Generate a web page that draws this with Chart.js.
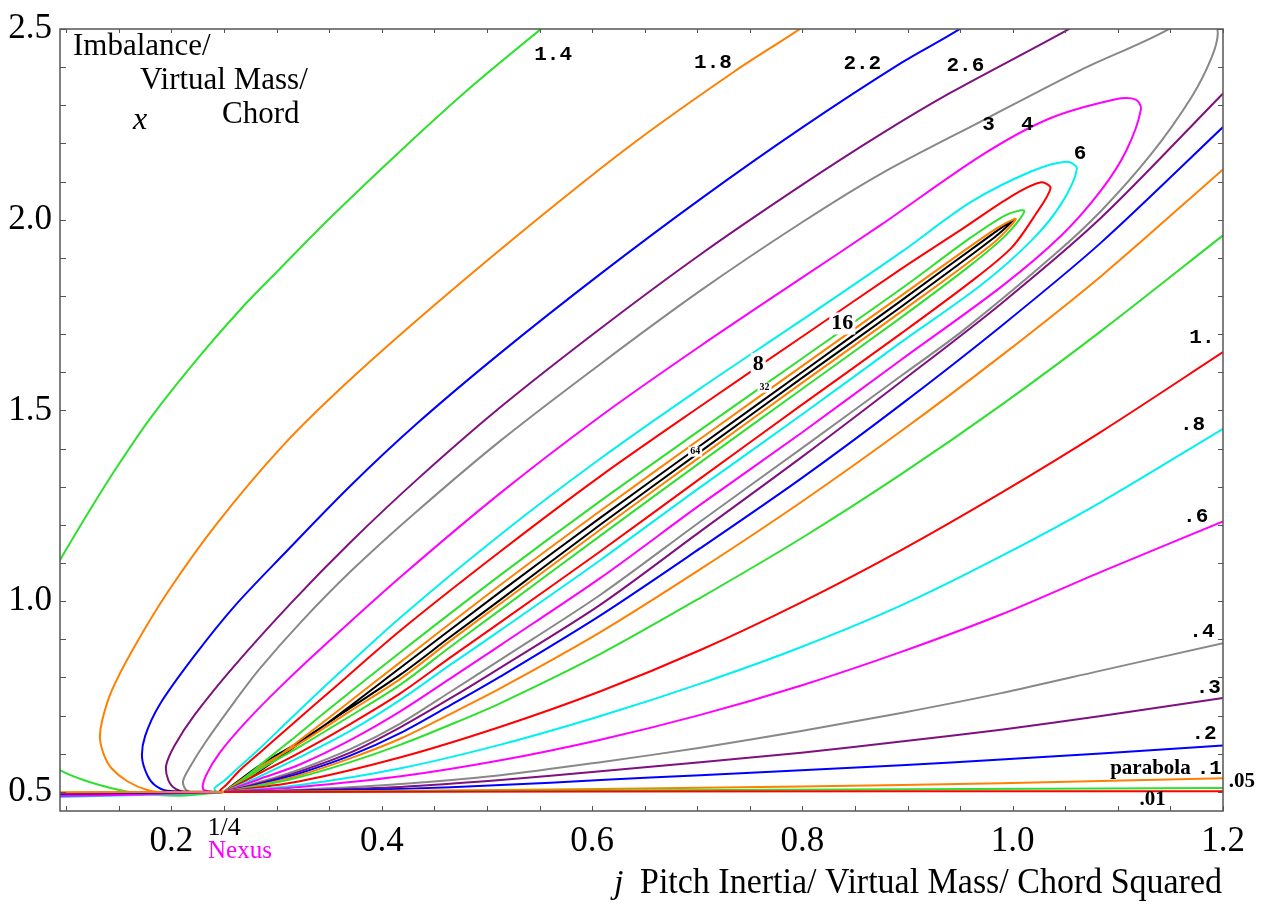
<!DOCTYPE html>
<html>
<head>
<meta charset="utf-8">
<title>Imbalance / pitch inertia contours</title>
<script src="https://cdn.jsdelivr.net/npm/chart.js@4.4.1/dist/chart.umd.min.js"></script>
<style>
  html, body { margin: 0; padding: 0; background: #fff; }
  #wrap { width: 1262px; height: 909px; }
</style>
</head>
<body>
<div id="wrap"><canvas id="chart" width="1262" height="909"></canvas></div>
<script>
// Axis ranges and tick labels
const X_MIN = 0.094, X_MAX = 1.2;
const Y_MIN = 0.45, Y_MAX = 2.5;
const xTicks = [0.2, 0.4, 0.6, 0.8, 1.0, 1.2];
const yTicks = [0.5, 1.0, 1.5, 2.0, 2.5];

// Contour colours
const RED = '#ff0000', GREEN = '#2ee02e', ORANGE = '#ff8000', BLUE = '#0000ff',
      PURPLE = '#7f117f', GRAY = '#888888', MAGENTA = '#ff00ff', CYAN = '#00f0f0', BLACK = '#000000';

// Contour lines, [j, x] pairs
// low levels: one branch from the nexus to the right edge
const lvl001 = [[0.25,0.5],[0.608,0.5012],[1.2,0.502]];
const lvl005 = [[0.25,0.5],[0.608,0.504],[1.2,0.51]];
const lvl01  = [[0.25,0.5],[0.418,0.503],[0.608,0.508],[0.799,0.514],[0.989,0.523],[1.2,0.536]];
const lvl02  = [[0.25,0.5],[0.322,0.503],[0.418,0.508],[0.513,0.518],[0.608,0.531],[0.703,0.544],[0.799,0.557],[0.894,0.57],[0.989,0.585],[1.084,0.601],[1.2,0.622]];
const lvl03  = [[0.25,0.5],[0.322,0.504],[0.418,0.513],[0.513,0.531],[0.608,0.554],[0.703,0.578],[0.799,0.603],[0.894,0.632],[0.989,0.663],[1.084,0.699],[1.2,0.746]];
const lvl04  = [[0.25,0.5],[0.322,0.506],[0.418,0.521],[0.513,0.544],[0.608,0.578],[0.703,0.616],[0.799,0.66],[0.894,0.707],[0.989,0.759],[1.084,0.818],[1.2,0.89]];
const lvl06  = [[0.25,0.5],[0.322,0.513],[0.418,0.541],[0.513,0.583],[0.608,0.637],[0.703,0.702],[0.799,0.779],[0.894,0.867],[0.989,0.965],[1.084,1.077],[1.2,1.209]];
const lvl08  = [[0.25,0.5],[0.322,0.518],[0.418,0.562],[0.513,0.624],[0.608,0.699],[0.703,0.784],[0.799,0.88],[0.894,0.989],[0.989,1.118],[1.084,1.26],[1.2,1.452]];
const lvl1   = [[0.25,0.5],[0.322,0.528],[0.418,0.591],[0.513,0.671],[0.608,0.764],[0.703,0.872],[0.799,0.997],[0.894,1.134],[0.989,1.284],[1.084,1.444],[1.2,1.653]];

// open levels: lower branch to the right edge, upper branch from the top edge round to the nexus
const lvl14lo = [[0.25,0.5],[0.284,0.516],[0.322,0.539],[0.37,0.578],[0.418,0.624],[0.465,0.676],[0.513,0.733],[0.608,0.862],[0.703,1.009],[0.799,1.165],[0.894,1.333],[0.989,1.514],[1.084,1.708],[1.2,1.959]];
const lvl14up = [[0.565,2.527],[0.551,2.499],[0.484,2.346],[0.418,2.181],[0.351,2.005],[0.303,1.871],[0.268,1.772],[0.227,1.643],[0.18,1.48],[0.148,1.351],[0.122,1.237],[0.094,1.108],[0.084,1.059]];
const lvl14left = [[0.08,0.59],[0.094,0.557],[0.122,0.526],[0.16,0.5],[0.208,0.49],[0.25,0.5]];
const lvl18lo = [[0.25,0.5],[0.284,0.518],[0.322,0.544],[0.37,0.588],[0.418,0.64],[0.465,0.704],[0.513,0.772],[0.608,0.919],[0.703,1.084],[0.799,1.26],[0.894,1.446],[0.989,1.643],[1.084,1.852],[1.2,2.132]];
const lvl18up = [[0.81,2.527],[0.797,2.499],[0.735,2.388],[0.64,2.202],[0.554,2.015],[0.453,1.783],[0.37,1.581],[0.306,1.408],[0.243,1.203],[0.196,1.022],[0.163,0.872],[0.143,0.764],[0.134,0.686],[0.132,0.64],[0.136,0.596],[0.143,0.562],[0.158,0.528],[0.177,0.505],[0.199,0.497],[0.25,0.5]];
const lvl22lo = [[0.25,0.5],[0.284,0.521],[0.322,0.549],[0.37,0.595],[0.418,0.655],[0.465,0.727],[0.513,0.803],[0.608,0.963],[0.703,1.139],[0.799,1.322],[0.894,1.516],[0.989,1.721],[1.084,1.94],[1.2,2.243]];
const lvl22up = [[0.96,2.527],[0.949,2.499],[0.894,2.411],[0.799,2.24],[0.703,2.054],[0.608,1.858],[0.513,1.651],[0.434,1.467],[0.37,1.302],[0.306,1.121],[0.259,0.984],[0.221,0.854],[0.189,0.73],[0.175,0.647],[0.172,0.591],[0.177,0.544],[0.184,0.518],[0.196,0.503],[0.25,0.5]];
const lvl26lo = [[0.25,0.5],[0.284,0.523],[0.322,0.554],[0.37,0.603],[0.418,0.67],[0.465,0.745],[0.513,0.826],[0.608,0.991],[0.703,1.183],[0.799,1.377],[0.894,1.576],[0.989,1.78],[1.084,2.005],[1.2,2.331]];
const lvl26up = [[1.067,2.527],[1.053,2.499],[0.941,2.333],[0.875,2.225],[0.799,2.09],[0.703,1.909],[0.608,1.715],[0.513,1.509],[0.434,1.32],[0.37,1.154],[0.315,0.999],[0.259,0.828],[0.222,0.702],[0.203,0.622],[0.195,0.57],[0.197,0.531],[0.204,0.508],[0.218,0.497],[0.25,0.5]];

// closed loops: nexus -> lower side -> far tip -> upper side -> nexus
const lvl3 = [[0.25,0.5],[0.284,0.526],[0.322,0.559],[0.37,0.612],[0.418,0.68],[0.465,0.762],[0.513,0.847],[0.608,1.017],[0.703,1.209],[0.799,1.4],[0.894,1.591],[0.953,1.71],[1.037,1.902],[1.084,2.023],[1.132,2.173],[1.17,2.321],[1.189,2.424],[1.195,2.491],[1.187,2.543],[1.165,2.548],[1.148,2.499],
              [1.065,2.393],[0.97,2.258],[0.875,2.121],[0.799,1.992],[0.703,1.814],[0.608,1.622],[0.513,1.421],[0.434,1.237],[0.37,1.077],[0.322,0.942],[0.284,0.823],[0.259,0.733],[0.232,0.629],[0.218,0.567],[0.211,0.528],[0.214,0.505],[0.223,0.497],[0.25,0.5]];
const lvl4 = [[0.25,0.5],[0.284,0.534],[0.322,0.572],[0.37,0.636],[0.418,0.712],[0.465,0.797],[0.513,0.885],[0.608,1.061],[0.703,1.253],[0.799,1.441],[0.894,1.633],[0.989,1.824],[1.046,1.958],[1.084,2.077],[1.108,2.181],[1.122,2.29],
              [1.117,2.315],[1.097,2.315],[1.034,2.264],[0.97,2.168],[0.875,1.987],[0.799,1.847],[0.703,1.669],[0.608,1.485],[0.513,1.284],[0.418,1.064],[0.351,0.898],[0.303,0.774],[0.27,0.681],[0.246,0.603],[0.233,0.544],[0.23,0.508],[0.239,0.5],[0.25,0.5]];
const lvl6 = [[0.25,0.5],[0.284,0.541],[0.322,0.591],[0.37,0.66],[0.418,0.742],[0.465,0.833],[0.513,0.924],[0.608,1.108],[0.703,1.299],[0.799,1.488],[0.894,1.679],[0.97,1.829],[1.018,1.946],[1.046,2.041],[1.061,2.134],
              [1.051,2.152],[1.018,2.127],[0.96,2.046],[0.894,1.915],[0.799,1.736],[0.703,1.558],[0.608,1.374],[0.513,1.175],[0.418,0.958],[0.351,0.79],[0.313,0.691],[0.284,0.614],[0.265,0.567],[0.251,0.531],[0.241,0.51],[0.243,0.5],[0.25,0.5]];
const lvl8 = [[0.25,0.5],[0.284,0.549],[0.322,0.603],[0.37,0.678],[0.418,0.759],[0.465,0.852],[0.513,0.945],[0.608,1.131],[0.703,1.322],[0.799,1.514],[0.894,1.702],[0.96,1.837],[0.999,1.927],[1.022,2.015],[1.036,2.083],
              [1.027,2.098],[0.999,2.062],[0.951,1.974],[0.894,1.871],[0.799,1.692],[0.703,1.511],[0.608,1.328],[0.513,1.131],[0.418,0.924],[0.351,0.764],[0.313,0.673],[0.284,0.603],[0.265,0.557],[0.252,0.518],[0.246,0.503],[0.25,0.5]];
const lvl16 = [[0.25,0.5],[0.284,0.559],[0.322,0.619],[0.37,0.699],[0.418,0.782],[0.465,0.88],[0.513,0.978],[0.608,1.172],[0.703,1.364],[0.799,1.555],[0.894,1.744],[0.96,1.881],[0.994,1.961],[1.011,2.023],
               [0.994,2.013],[0.96,1.953],[0.894,1.819],[0.799,1.635],[0.703,1.449],[0.608,1.263],[0.513,1.069],[0.418,0.867],[0.351,0.72],[0.313,0.634],[0.284,0.57],[0.265,0.526],[0.258,0.508],[0.25,0.5]];
const lvl32 = [[0.25,0.5],[0.284,0.565],[0.322,0.627],[0.37,0.712],[0.418,0.797],[0.465,0.896],[0.513,0.994],[0.608,1.188],[0.703,1.379],[0.799,1.571],[0.894,1.759],[0.98,1.935],[1.003,2.002],
               [0.98,1.969],[0.894,1.801],[0.799,1.615],[0.703,1.426],[0.608,1.237],[0.513,1.043],[0.418,0.841],[0.351,0.697],[0.303,0.596],[0.275,0.541],[0.25,0.5]];
const lvl64 = [[0.25,0.5],[0.284,0.57],[0.322,0.632],[0.37,0.72],[0.418,0.808],[0.465,0.906],[0.513,1.004],[0.608,1.201],[0.703,1.392],[0.799,1.584],[0.894,1.772],[0.98,1.948],[1.001,2.0],
               [0.98,1.961],[0.894,1.788],[0.799,1.599],[0.703,1.408],[0.608,1.219],[0.513,1.025],[0.418,0.826],[0.351,0.686],[0.303,0.591],[0.275,0.539],[0.25,0.5]];

// branches running left from the nexus just under x = 0.5
const leftRed = [[0.08,0.493],[0.2,0.496],[0.25,0.5]];
const leftCyan = [[0.08,0.486],[0.2,0.494],[0.25,0.5]];
const leftMagenta = [[0.08,0.489],[0.17,0.493],[0.25,0.5]];
const leftBlue = [[0.08,0.495],[0.25,0.5]];
const leftPurple = [[0.08,0.497],[0.25,0.5]];
const leftOrange = [[0.08,0.499],[0.25,0.5]];

// contour labels
const labelText = ['1.4','1.8','2.2','2.6','3','4','6','8','16','32','64','1.','.8','.6','.4','.3','.2','parabola','.1','.05','.01'];
const labelJ = [0.563,0.715,0.857,0.955,0.977,1.014,1.064,0.758,0.838,0.764,0.698,1.18,1.171,1.174,1.18,1.186,1.182,1.131,1.187,1.218,1.133];
const labelX = [2.432,2.411,2.408,2.403,2.248,2.248,2.173,1.622,1.728,1.56,1.392,1.69,1.462,1.222,0.919,0.772,0.653,0.562,0.562,0.526,0.479];

const curves = [
    [leftOrange, ORANGE], [leftPurple, PURPLE], [leftBlue, BLUE], [leftMagenta, MAGENTA], [leftCyan, CYAN], [leftRed, RED],
    [lvl001, RED], [lvl005, GREEN], [lvl01, ORANGE], [lvl02, BLUE], [lvl03, PURPLE], [lvl04, GRAY],
    [lvl06, MAGENTA], [lvl08, CYAN], [lvl1, RED],
    [lvl14lo, GREEN], [lvl14up, GREEN], [lvl14left, GREEN],
    [lvl18lo, ORANGE], [lvl18up, ORANGE], [lvl22lo, BLUE], [lvl22up, BLUE], [lvl26lo, PURPLE], [lvl26up, PURPLE],
    [lvl3, GRAY], [lvl4, MAGENTA], [lvl6, CYAN], [lvl8, RED], [lvl16, GREEN], [lvl32, ORANGE], [lvl64, BLACK]
];

const datasets = curves.map(([pts, color]) => ({
    data: pts.map(p => ({ x: p[0], y: p[1] })),
    borderColor: color,
    borderWidth: 2,
    pointRadius: 0,
    tension: 0.3,
    fill: false
}));

// frame, inside ticks, contour labels and axis titles
const decorPlugin = {
    id: 'decor',
    afterDatasetsDraw(chart) {
        const { ctx, chartArea: a, scales: { x, y } } = chart;
        ctx.save();
        ctx.strokeStyle = '#555';
        ctx.lineWidth = 1.5;
        ctx.strokeRect(a.left, a.top, a.right - a.left, a.bottom - a.top);
        ctx.lineWidth = 1;
        ctx.beginPath();
        for (let v = 0.1; v <= X_MAX + 1e-9; v += 0.05) {
            const px = Math.round(x.getPixelForValue(v)) + 0.5;
            ctx.moveTo(px, a.bottom); ctx.lineTo(px, a.bottom - 5);
            ctx.moveTo(px, a.top); ctx.lineTo(px, a.top + 4);
        }
        for (let v = 0.5; v <= Y_MAX + 1e-9; v += 0.1) {
            const py = Math.round(y.getPixelForValue(v)) + 0.5;
            ctx.moveTo(a.left, py); ctx.lineTo(a.left + 6, py);
            ctx.moveTo(a.right, py); ctx.lineTo(a.right - 5, py);
        }
        ctx.stroke();

        // contour labels
        ctx.textAlign = 'center';
        ctx.textBaseline = 'middle';
        labelText.forEach((t, i) => {
            const px = x.getPixelForValue(labelJ[i]);
            const py = y.getPixelForValue(labelX[i]);
            let font = 'bold 21px "Liberation Mono"';
            let boxed = false;
            if (t === '8' || t === '16') { font = 'bold 22px "Liberation Serif"'; boxed = true; }
            if (t === '32' || t === '64') { font = 'bold 10px "Liberation Serif"'; boxed = true; }
            if (t === 'parabola') font = 'bold 21px "Liberation Serif"';
            if (t === '.05' || t === '.01') font = 'bold 21px "Liberation Serif"';
            ctx.font = font;
            if (boxed) {
                const w = ctx.measureText(t).width + 4;
                const h = parseInt(font.match(/(\d+)px/)[1], 10);
                ctx.fillStyle = '#fff';
                ctx.fillRect(px - w / 2, py - h / 2, w, h);
            }
            ctx.fillStyle = '#000';
            ctx.fillText(t, px, py);
        });

        // nexus mark under the axis
        const nx = x.getPixelForValue(0.25);
        ctx.textAlign = 'center';
        ctx.textBaseline = 'alphabetic';
        ctx.fillStyle = '#000';
        ctx.font = '26px "Liberation Serif"';
        ctx.fillText('1/4', nx, 835);
        ctx.fillStyle = '#ff00ff';
        ctx.textAlign = 'left';
        ctx.font = '25px "Liberation Serif"';
        ctx.fillText('Nexus', nx - 16, 858);

        // axis titles
        ctx.fillStyle = '#000';
        ctx.font = 'italic 34px "Liberation Serif"';
        ctx.fillText('j', 614, 893);
        ctx.font = '36px "Liberation Serif"';
        const title = 'Pitch Inertia/ Virtual Mass/ Chord Squared';
        const tw = ctx.measureText(title).width;
        ctx.save();
        ctx.translate(640, 893);
        ctx.scale((1222 - 640) / tw, 1);
        ctx.fillText(title, 0, 0);
        ctx.restore();

        ctx.font = '31px "Liberation Serif"';
        ctx.fillText('Imbalance/', 73, 55);
        ctx.fillText('Virtual Mass/', 140, 89);
        ctx.fillText('Chord', 222, 123);
        ctx.font = 'italic 32px "Liberation Serif"';
        ctx.fillText('x', 133, 129);
        ctx.restore();
    }
};

new Chart(document.getElementById('chart'), {
    type: 'line',
    data: { datasets },
    options: {
        responsive: false,
        devicePixelRatio: 1,
        animation: false,
        events: [],
        layout: { padding: { top: 19, right: 39, left: 0, bottom: 0 } },
        plugins: { legend: { display: false }, tooltip: { enabled: false } },
        scales: {
            x: {
                type: 'linear',
                min: X_MIN,
                max: X_MAX,
                afterBuildTicks: s => { s.ticks = xTicks.map(v => ({ value: v })); },
                afterFit: s => { s.height = 98; },
                grid: { display: false, drawTicks: false },
                border: { display: false },
                ticks: {
                    autoSkip: false, maxRotation: 0, padding: 10, color: '#000',
                    font: { family: 'Liberation Serif', size: 35 },
                    callback: v => v.toFixed(1)
                }
            },
            y: {
                type: 'linear',
                min: Y_MIN,
                max: Y_MAX,
                afterBuildTicks: s => { s.ticks = yTicks.map(v => ({ value: v })); },
                afterFit: s => { s.width = 60; },
                grid: { display: false, drawTicks: false },
                border: { display: false },
                ticks: {
                    autoSkip: false, padding: 8, color: '#000',
                    font: { family: 'Liberation Serif', size: 35 },
                    callback: v => v.toFixed(1)
                }
            }
        }
    },
    plugins: [decorPlugin]
});
</script>
</body>
</html>
